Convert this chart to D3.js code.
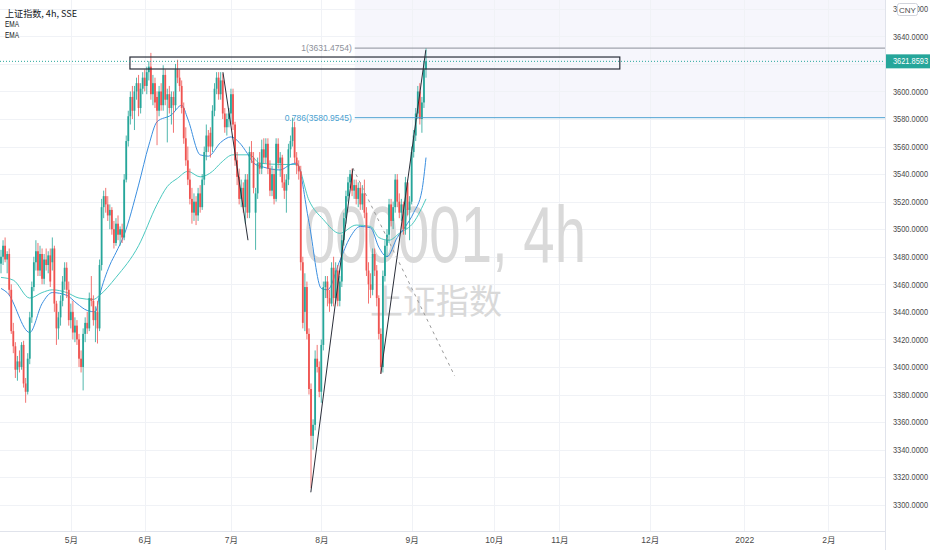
<!DOCTYPE html>
<html><head><meta charset="utf-8">
<script src="https://cdn.jsdelivr.net/npm/d3@7"></script>
<style>body{margin:0;background:#fff;}svg{display:block;font-family:"Liberation Sans",Arial,sans-serif;}</style>
</head><body><svg id="c" width="932" height="550"></svg>
<script>
// ---- DATA ----
const ohlc = [
[3475,3485,3468,3480],[3480,3492,3474,3488],[3488,3494,3476,3478],[3478,3484,3468,3482],[3482,3486,3452,3456],
[3456,3460,3424,3426],[3426,3432,3410,3415],[3415,3418,3392,3398],[3398,3408,3390,3404],[3404,3412,3396,3400],
[3400,3418,3398,3416],[3416,3419,3385,3388],[3388,3392,3374,3382],[3382,3410,3380,3406],[3406,3440,3402,3436],
[3436,3462,3432,3458],[3458,3480,3455,3476],[3476,3492,3470,3484],[3484,3490,3466,3470],[3470,3488,3466,3482],
[3482,3486,3460,3464],[3464,3482,3460,3478],[3478,3486,3470,3474],[3474,3484,3468,3481],[3481,3486,3458,3462],
[3476,3494,3470,3486],[3486,3488,3440,3446],[3446,3448,3416,3428],[3428,3440,3420,3436],[3436,3452,3430,3448],
[3448,3466,3444,3462],[3462,3476,3456,3472],[3472,3476,3450,3456],[3456,3462,3430,3434],[3434,3446,3428,3440],
[3440,3448,3420,3425],[3425,3436,3418,3430],[3430,3434,3416,3420],[3420,3424,3400,3406],[3406,3412,3396,3400],
[3400,3428,3383,3424],[3424,3436,3418,3432],[3432,3440,3424,3428],[3428,3454,3426,3450],[3450,3466,3444,3448],
[3448,3452,3430,3434],[3434,3444,3418,3440],[3440,3448,3417,3428],[3428,3478,3426,3474],[3474,3522,3470,3516],
[3516,3528,3508,3524],[3524,3530,3512,3518],[3518,3524,3506,3510],[3510,3518,3500,3514],[3514,3516,3496,3500],
[3500,3506,3486,3490],[3490,3508,3488,3504],[3504,3510,3492,3496],[3496,3502,3488,3500],[3500,3504,3490,3494],
[3494,3540,3492,3536],[3536,3568,3534,3564],[3564,3586,3560,3582],[3582,3600,3576,3596],[3596,3604,3580,3586],
[3586,3604,3572,3600],[3600,3610,3594,3606],[3606,3612,3582,3588],[3588,3606,3584,3602],[3602,3614,3598,3610],
[3610,3616,3600,3604],[3604,3618,3598,3614],[3614,3622,3608,3618],[3618,3628,3594,3598],[3598,3612,3590,3606],
[3606,3610,3588,3592],[3596,3600,3561,3586],[3586,3604,3582,3600],[3600,3606,3586,3590],[3590,3619,3586,3612],
[3612,3616,3590,3594],[3594,3602,3563,3598],[3598,3604,3584,3588],[3588,3600,3576,3596],[3596,3600,3570,3590],
[3590,3620,3586,3616],[3616,3623,3606,3610],[3610,3616,3600,3604],[3604,3608,3584,3588],[3588,3592,3562,3566],
[3566,3574,3546,3550],[3550,3560,3532,3536],[3536,3544,3518,3522],[3522,3530,3504,3512],[3512,3526,3506,3520],
[3520,3524,3503,3510],[3510,3530,3506,3526],[3526,3532,3512,3516],[3516,3540,3514,3536],[3536,3560,3532,3556],
[3556,3576,3550,3568],[3568,3572,3556,3560],[3570,3574,3552,3560],[3560,3590,3556,3586],[3586,3606,3582,3602],
[3602,3614,3598,3610],[3610,3614,3594,3598],[3598,3614,3594,3608],[3608,3613,3580,3584],[3584,3588,3570,3574],
[3574,3584,3568,3580],[3580,3588,3574,3584],[3584,3602,3576,3598],[3598,3602,3572,3576],[3576,3578,3546,3550],
[3550,3556,3532,3538],[3538,3544,3518,3522],[3522,3536,3516,3530],[3530,3534,3512,3516],[3516,3540,3504,3536],
[3536,3540,3508,3512],[3512,3560,3508,3556],[3556,3564,3548,3552],[3552,3556,3526,3530],[3512,3530,3485,3526],
[3526,3552,3522,3548],[3548,3556,3540,3544],[3544,3565,3540,3558],[3558,3566,3548,3552],[3552,3566,3548,3562],
[3562,3566,3540,3544],[3544,3550,3524,3528],[3528,3546,3524,3540],[3540,3544,3518,3522],[3522,3566,3520,3562],
[3562,3566,3544,3548],[3548,3556,3538,3552],[3552,3554,3530,3534],[3534,3540,3522,3528],[3528,3540,3512,3536],
[3536,3562,3532,3558],[3558,3568,3552,3564],[3564,3581,3560,3574],[3574,3578,3548,3552],[3552,3556,3540,3546],
[3546,3550,3536,3542],[3542,3546,3470,3476],[3476,3480,3428,3432],[3440,3468,3426,3458],[3458,3462,3420,3424],
[3424,3428,3380,3384],[3384,3388,3312,3350],[3350,3362,3340,3358],[3358,3412,3354,3406],[3406,3416,3396,3400],
[3400,3404,3378,3382],[3382,3420,3374,3416],[3416,3462,3412,3458],[3458,3466,3450,3462],[3462,3466,3444,3450],
[3450,3456,3440,3446],[3446,3476,3444,3472],[3472,3480,3444,3450],[3450,3476,3446,3470],[3470,3474,3444,3448],
[3448,3466,3444,3462],[3462,3496,3458,3492],[3492,3512,3488,3508],[3508,3528,3504,3524],[3524,3538,3520,3534],
[3534,3543,3530,3540],[3540,3544,3524,3528],[3528,3536,3522,3532],[3532,3536,3518,3522],[3522,3534,3516,3530],
[3530,3534,3514,3518],[3518,3532,3514,3526],[3526,3536,3508,3512],[3512,3516,3466,3470],[3470,3476,3446,3460],
[3460,3468,3450,3456],[3456,3486,3452,3482],[3482,3486,3466,3470],[3470,3474,3444,3450],[3450,3452,3420,3424],
[3424,3428,3395,3400],[3400,3470,3396,3466],[3466,3492,3462,3488],[3488,3500,3480,3496],[3496,3522,3490,3518],
[3518,3522,3502,3506],[3506,3520,3500,3516],[3516,3540,3512,3536],[3536,3540,3516,3520],[3520,3526,3508,3512],
[3512,3522,3506,3518],[3518,3520,3496,3500],[3500,3538,3496,3534],[3534,3536,3510,3514],[3514,3524,3492,3520],
[3520,3560,3518,3556],[3556,3572,3552,3568],[3568,3588,3564,3584],[3584,3604,3580,3600],[3600,3606,3576,3580],
[3580,3596,3570,3592],[3592,3622,3588,3616],[3616,3631.4754,3610,3621.8593]
];
// EMA readings [bar, value]
const emaFast = [[0,3457],[3,3454],[14,3425],[20,3446],[25,3454],[32,3452],[37,3446],[42,3441],[46,3440],[48,3452],[53,3474],[56,3483],[60,3496],[67,3532],[72,3561],[76,3578],[83,3583],[88,3590],[91,3580],[97,3554],[101,3553],[107,3563],[112,3567],[116,3563],[120,3555],[123,3548],[128,3545],[136,3543],[141,3547],[144,3548],[150,3505],[156,3457],[159,3456],[165,3477],[170,3494],[175,3502],[180,3501],[184,3487],[188,3480],[193,3494],[197,3502],[201,3512],[205,3528],[207,3552]];
const emaSlow = [[0,3465],[6,3463],[14,3450],[20,3454],[25,3456],[32,3454],[38,3450],[45,3449],[48,3452],[56,3465],[67,3488],[76,3518],[81,3531],[86,3537],[91,3542],[97,3538],[103,3542],[107,3548],[113,3554],[121,3554],[126,3548],[136,3547],[144,3547],[150,3521],[157,3507],[165,3497],[173,3503],[180,3502],[184,3494],[189,3492],[194,3497],[201,3505],[207,3522]];
const priceTicks = [3300,3320,3340,3360,3380,3400,3420,3440,3460,3480,3500,3520,3540,3560,3580,3600,3620,3640,3660];
const monthLabels = ["5月","6月","7月","8月","9月","10月","11月","12月","2022","2月"];
const monthBars = [34,70,112,156,200,240,272,316,362,403];
const trendLines = [[[108.1,3614],[120.3,3492]],[[150.9,3309],[171.4,3544]],[[185,3395],[206.9,3630]]];
const dashedLine = [[171.4,3544.4],[221,3393.4]];
const boxZone = {b0:62.8,b1:301.4,p0:3625,p1:3616.3};
const fib = {startBar:172.3, levels:[{k:"1",v:3631.4754},{k:"0.786",v:3580.9545}]};
const lastClose = 3621.8593;

// ---- CHART ----
const W=932,H=550,PW=885,PH=531;
const svg=d3.select("#c");
const x=d3.scaleLinear().domain([0,207]).range([1,426]);
const y=d3.scaleLinear().domain([3280.91,3666.39]).range([PH,0]);
const up="#26a69a",down="#ef5350";
svg.append("defs").append("clipPath").attr("id","clip").append("rect").attr("width",PW).attr("height",PH);
const plot=svg.append("g").attr("clip-path","url(#clip)");

// fib background
plot.append("rect").attr("x",x(fib.startBar)).attr("y",0).attr("width",PW-x(fib.startBar))
 .attr("height",y(fib.levels[1].v)).attr("fill","#f6f6fc");

// grid
plot.selectAll("line.hg").data(priceTicks).join("line").attr("x1",0).attr("x2",PW)
 .attr("y1",d=>Math.round(y(d))+0.5).attr("y2",d=>Math.round(y(d))+0.5).attr("stroke","#f0f2f6");
plot.selectAll("line.vg").data(monthBars).join("line").attr("y1",0).attr("y2",PH)
 .attr("x1",d=>Math.round(x(d))+0.5).attr("x2",d=>Math.round(x(d))+0.5).attr("stroke","#f0f2f6");

// watermark
plot.append("text").attr("x",445).attr("y",262).attr("text-anchor","middle").attr("font-size",80)
 .attr("fill","#d9d9d9").attr("textLength",282).attr("lengthAdjust","spacingAndGlyphs").text("000001, 4h");
plot.append("text").attr("x",436).attr("y",314).attr("text-anchor","middle").attr("font-size",34)
 .attr("font-family","Noto Sans CJK SC").attr("fill","#d9d9d9").attr("textLength",132).attr("lengthAdjust","spacingAndGlyphs").text("上证指数");

// EMAs
const ln=d3.line().x(d=>x(d[0])).y(d=>y(d[1])).curve(d3.curveMonotoneX);
plot.append("path").datum(emaSlow).attr("d",ln).attr("fill","none").attr("stroke","#4cc9c0").attr("stroke-width",1);
plot.append("path").datum(emaFast).attr("d",ln).attr("fill","none").attr("stroke","#3b8fe0").attr("stroke-width",1);

// candles
const cg=plot.append("g");
cg.selectAll("line").data(ohlc).join("line")
 .attr("x1",(d,i)=>x(i)).attr("x2",(d,i)=>x(i)).attr("y1",d=>y(d[1])).attr("y2",d=>y(d[2]))
 .attr("stroke",d=>d[3]>=d[0]?up:down).attr("stroke-width",1).attr("opacity",0.8);
cg.selectAll("rect").data(ohlc).join("rect")
 .attr("x",(d,i)=>x(i)-0.9).attr("width",1.8)
 .attr("y",d=>y(Math.max(d[0],d[3]))).attr("height",d=>Math.max(1,Math.abs(y(d[0])-y(d[3]))))
 .attr("fill",d=>d[3]>=d[0]?up:down);

// trend lines
plot.selectAll("line.tl").data(trendLines).join("line")
 .attr("x1",d=>x(d[0][0])).attr("y1",d=>y(d[0][1])).attr("x2",d=>x(d[1][0])).attr("y2",d=>y(d[1][1]))
 .attr("stroke","#2a2e39").attr("stroke-width",1);
plot.append("line").attr("x1",x(dashedLine[0][0])).attr("y1",y(dashedLine[0][1]))
 .attr("x2",x(dashedLine[1][0])).attr("y2",y(dashedLine[1][1]))
 .attr("stroke","#9a9a9a").attr("stroke-width",1).attr("stroke-dasharray","3,4");

// rectangle zone
plot.append("rect").attr("x",x(boxZone.b0)).attr("y",y(boxZone.p0))
 .attr("width",x(boxZone.b1)-x(boxZone.b0)).attr("height",y(boxZone.p1)-y(boxZone.p0))
 .attr("fill","none").attr("stroke","#2a2e39").attr("stroke-width",1.2);

// fib lines
const fibCol=["#8c8f99","#4a9fd0"];
fib.levels.forEach((l,i)=>{
  plot.append("line").attr("x1",x(fib.startBar)).attr("x2",PW).attr("y1",y(l.v)).attr("y2",y(l.v))
   .attr("stroke",fibCol[i]).attr("stroke-width",1);
  plot.append("text").attr("x",x(fib.startBar)-3).attr("y",y(l.v)+3).attr("text-anchor","end")
   .attr("font-size",8.5).attr("fill",fibCol[i]).text(l.k+"("+l.v.toFixed(4)+")");
});

// last price line
plot.append("line").attr("x1",0).attr("x2",PW).attr("y1",y(lastClose)).attr("y2",y(lastClose))
 .attr("stroke",up).attr("stroke-width",1).attr("stroke-dasharray","1,2");

// axes (3620 label sits under the last-price badge, so it is not drawn)
svg.append("line").attr("x1",PW+0.5).attr("x2",PW+0.5).attr("y1",0).attr("y2",H).attr("stroke","#e0e3eb");
svg.append("line").attr("x1",0).attr("x2",PW+1).attr("y1",PH+0.5).attr("y2",PH+0.5).attr("stroke","#e0e3eb");
const labelTicks = priceTicks.filter(v=>Math.abs(y(v)-y(lastClose))>9);
const ya=svg.append("g").attr("transform",`translate(${PW},0)`)
 .call(d3.axisRight(y).tickValues(labelTicks).tickFormat(d=>d.toFixed(4)).tickSize(0).tickPadding(8));
ya.select(".domain").remove();
ya.selectAll("text").attr("font-size",8.5).attr("fill","#4a4a4a").attr("font-family","Liberation Sans")
 .attr("textLength",35).attr("lengthAdjust","spacingAndGlyphs");
const xa=svg.append("g").attr("transform",`translate(0,${PH})`)
 .call(d3.axisBottom(x).tickValues(monthBars).tickFormat((d,i)=>monthLabels[i]).tickSize(0).tickPadding(6));
xa.select(".domain").remove();
xa.selectAll("text").attr("font-size",8.5).attr("fill","#4a4a4a").attr("font-family","Liberation Sans, Noto Sans CJK SC");

// price badge
const by=y(lastClose);
svg.append("rect").attr("x",PW+1).attr("y",by-7).attr("width",44).attr("height",14).attr("fill",up);
svg.append("text").attr("x",PW+8).attr("y",by+3).attr("font-size",8.5).attr("fill","#fff")
 .attr("textLength",35).attr("lengthAdjust","spacingAndGlyphs").text(lastClose.toFixed(4));

// CNY box
svg.append("rect").attr("x",897.5).attr("y",3.5).attr("width",20).attr("height",12).attr("rx",2)
 .attr("fill","#fff").attr("stroke","#d1d4dc");
svg.append("text").attr("x",907.5).attr("y",12.5).attr("text-anchor","middle").attr("font-size",8).attr("fill","#4a4a4a").text("CNY");

// legend
const lg=svg.append("g").attr("font-size",9).attr("fill","#131722");
lg.append("text").attr("x",5).attr("y",16.5).attr("font-family","Noto Sans CJK SC, Liberation Sans")
 .attr("textLength",72).attr("lengthAdjust","spacingAndGlyphs").text("上证指数, 4h, SSE");
lg.append("text").attr("x",5).attr("y",27).attr("textLength",14).attr("lengthAdjust","spacingAndGlyphs").text("EMA");
lg.append("text").attr("x",5).attr("y",37.5).attr("textLength",14).attr("lengthAdjust","spacingAndGlyphs").text("EMA");
</script></body></html>
